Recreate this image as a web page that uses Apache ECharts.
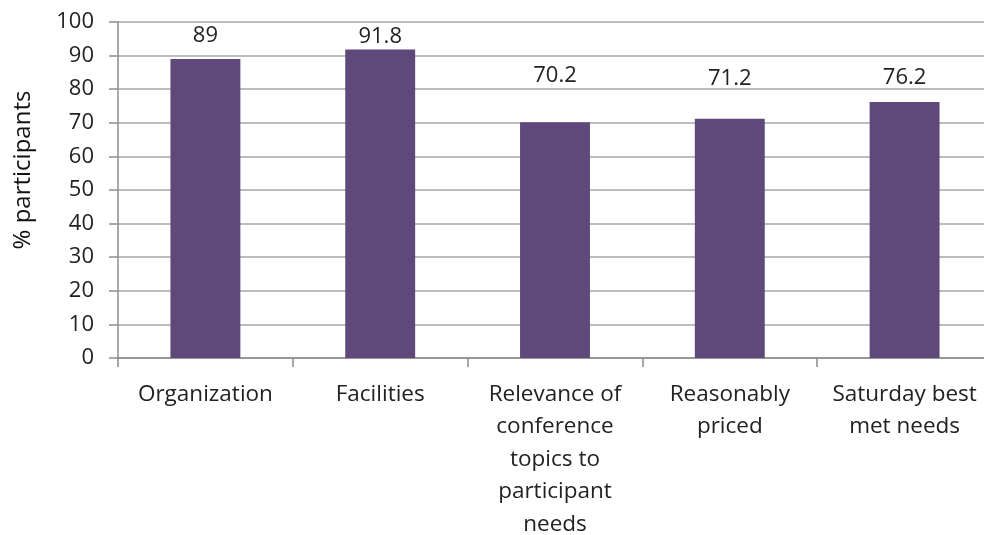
<!DOCTYPE html>
<html>
<head>
<meta charset="utf-8">
<script src="https://cdn.jsdelivr.net/npm/echarts@6/dist/echarts.min.js"></script>
<style>
  html, body { margin: 0; padding: 0; background: #fff; }
  #chart { width: 984px; height: 535px; }
</style>
</head>
<body>
<div id="chart"></div>
<script>
// categories (wrapped the way the original axis shows them)
var categories = [
  "Organization",
  "Facilities",
  "Relevance of\nconference\ntopics to\nparticipant\nneeds",
  "Reasonably\npriced",
  "Saturday best\nmet needs"
];
var percentValues = [89, 91.8, 70.2, 71.2, 76.2];
var yTicks = [0, 100, 10]; // min, max, step

// gap between bar top and its label (labels sit at hand-placed heights in the original)
var labelGaps = [12, 2, 35, 29, 13];

var FONT = "Open Sans";
var chart = echarts.init(document.getElementById("chart"));

var option = {
  animation: false,
  grid: { left: 118, right: -8, top: 22, bottom: 177, containLabel: false, outerBoundsMode: "none" },
  xAxis: {
    type: "category",
    data: categories,
    axisLine: { lineStyle: { color: "#8c8c8c", width: 1.5 } },
    axisTick: { show: true, length: 9, lineStyle: { color: "#8c8c8c", width: 1.5 } },
    axisLabel: {
      interval: 0,
      margin: 20,
      fontFamily: FONT,
      fontSize: 22.5,
      lineHeight: 32.5,
      color: "#222"
    }
  },
  yAxis: {
    type: "value",
    min: yTicks[0],
    max: yTicks[1],
    interval: yTicks[2],
    axisLine: { show: true, lineStyle: { color: "#8c8c8c", width: 1.5 } },
    axisTick: { show: true, length: 9, lineStyle: { color: "#8c8c8c", width: 1.5 } },
    splitLine: { lineStyle: { color: "#a6a6a6", width: 1.5 } },
    axisLabel: {
      margin: 24,
      fontFamily: FONT,
      fontSize: 22,
      color: "#222"
    }
  },
  graphic: [{
    type: "text",
    x: 23,
    y: 170,
    rotation: Math.PI / 2,
    style: {
      text: "% participants",
      fontFamily: FONT,
      fontSize: 24,
      fill: "#111",
      align: "center",
      verticalAlign: "middle"
    }
  }],
  series: [{
    type: "bar",
    barWidth: "40%",
    itemStyle: { color: "#5f497a" },
    data: percentValues.map(function (v, i) {
      return { value: v, label: { distance: labelGaps[i] } };
    }),
    label: {
      show: true,
      position: "top",
      fontFamily: FONT,
      fontSize: 22,
      color: "#222"
    }
  }]
};

chart.setOption(option);
</script>
</body>
</html>
